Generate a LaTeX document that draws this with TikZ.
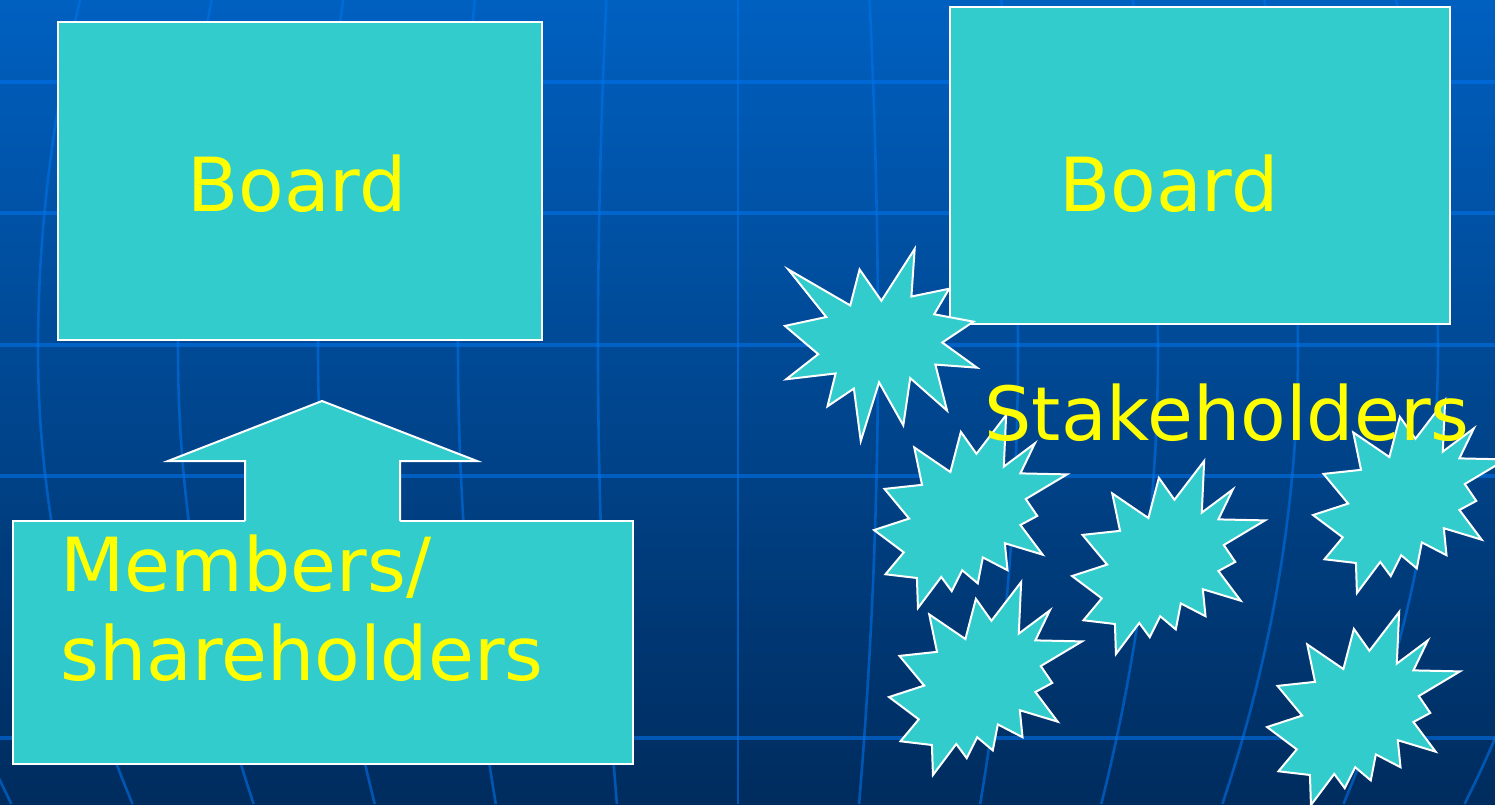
\documentclass[tikz,border=0pt]{standalone}
\usepackage{fontspec}
\setmainfont{DejaVu Sans}

\definecolor{bgtop}{RGB}{0,96,192}
\definecolor{bgbottom}{RGB}{0,44,94}
\definecolor{gridblue}{RGB}{0,114,232}
\definecolor{turq}{RGB}{51,204,204}
\definecolor{txtyellow}{RGB}{255,255,0}

\tikzset{
  box/.style={draw=white, line width=1pt, fill=turq, inner sep=0pt},
  burst/.style={draw=white, line width=1pt, fill=turq, line join=miter},
  gridline/.style={draw=gridblue, opacity=0.6},
  yellowtext/.style={text=txtyellow, inner sep=0pt, font=\fontsize{37.3}{44.5}\selectfont}
}

\begin{document}
\begin{tikzpicture}[x=0.5pt, y=-0.5pt]
% outline of the two explosion shapes (216 x 216 units)
\def \sealone {(109.01,59.05) -- (84.58,23.99) -- (74.17,64.25) -- (4.76,23.99) -- (47.32,77.22) -- (1.06,87.18) -- (38.28,118.80) -- (2.43,146.89) -- (57.72,140.41) -- (48.68,177.19) -- (78.19,157.30) -- (85.90,216.00) -- (106.37,150.38) -- (133.49,198.40) -- (141.25,145.61) -- (182.48,181.95) -- (169.38,130.44) -- (216.00,133.93) -- (177.10,105.79) -- (211.98,82.42) -- (168.06,74.17) -- (184.82,45.60) -- (142.57,54.29) -- (146.23,1.06) -- cycle}
\def \sealtwo {(114.64,43.40) -- (97.22,18.87) -- (85.48,63.83) -- (45.03,36.26) -- (53.73,78.16) -- (11.74,82.70) -- (39.34,115.92) -- (0,128.75) -- (33.29,153.72) -- (12.83,178.24) -- (48.04,182.39) -- (49.18,216.00) -- (75.25,181.25) -- (86.98,197.12) -- (98.71,173.71) -- (116.14,188.44) -- (121.78,159.37) -- (149.43,173.71) -- (146.40,143.48) -- (188.78,156.32) -- (163.82,123.11) -- (182.70,112.92) -- (169.86,94.04) -- (216.00,66.46) -- (163.82,65.33) -- (180.05,31.72) -- (145.24,57.78) -- (147.89,0) -- cycle}

\useasboundingbox (0,0) rectangle (1495,804);

% background and globe grid
\shade[top color=bgtop, bottom color=bgbottom] (0,0) rectangle (1495,804);
\begin{scope}
\clip (0,0) rectangle (1495,804);
\foreach \gy in {82,213,345,476,738}
    \draw[gridline, line width=1.6pt] (0,\gy) -- (1495,\gy);
\foreach \k in {-6,...,6}
    \draw[gridline, line width=1.3pt]
        plot[smooth, domain=0:350, samples=12, variable=\t] ({738+140*\k*(1-0.06*((350-\t)/350)^2)}, \t)
        -- plot[smooth, domain=350:804, samples=16, variable=\t] ({738+140*\k*(1-0.135*((\t-350)/454)^2)}, \t);
\end{scope}

% the boxes
\node (boardL) [box, minimum width=242pt, minimum height=159pt] at (300,181) {};
\node (boardR) [box, minimum width=250pt, minimum height=158.5pt] at (1200,165.5) {};
\node (members) [box, minimum width=310pt, minimum height=121.5pt] at (323,642.5) {};

% block arrow up from the members
\fill[turq] (245,522.5) -- (245,461) -- (168,461) -- (322,401) -- (477,461) -- (400,461) -- (400,522.5) -- cycle;
\draw[white, line width=1pt] (245,521) -- (245,461) -- (168,461) -- (322,401) -- (477,461) -- (400,461) -- (400,521);

% stakeholder explosions
\begin{scope}[shift={(784,248)}, x=0.4468pt, y=-0.4468pt]
    \draw[burst] \sealone;
\end{scope}
\foreach \sx/\sy in {874/415, 1072/461, 889/582, 1313/400, 1267/612}
{
    \begin{scope}[shift={(\sx,\sy)}, x=0.4468pt, y=-0.4468pt]
        \draw[burst] \sealtwo;
    \end{scope}
}

% texts
\node (boardLtext) [yellowtext, anchor=base west] at (187,211) {Board};
\node (boardRtext) [yellowtext, anchor=base west] at (1059,211) {Board};
\node (stake) [yellowtext, anchor=base west] at (984,440) {Stakeholders};
\node (memberstext) [yellowtext, anchor=base west, align=left] at (60,680) {Members/\\shareholders};

\end{tikzpicture}
\end{document}
